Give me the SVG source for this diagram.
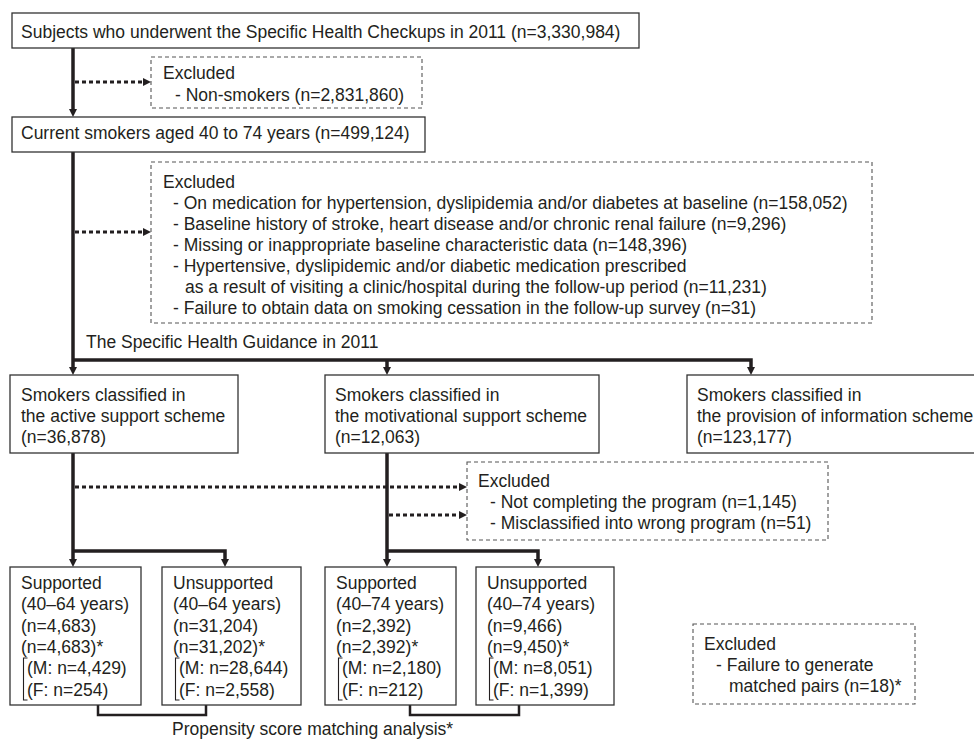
<svg xmlns="http://www.w3.org/2000/svg" width="974" height="740" viewBox="0 0 974 740">
<style>
text{font-family:"Liberation Sans",Arial,sans-serif;font-size:17.5px;fill:#231f20}
.box{fill:#fff;stroke:#333;stroke-width:1.3}
.dbox{fill:#fff;stroke:#555;stroke-width:1.1;stroke-dasharray:4 3}
.solid{fill:none;stroke:#231f20;stroke-width:3.5}
.dot{fill:none;stroke:#231f20;stroke-width:3;stroke-dasharray:4 3}
.brk{fill:none;stroke:#231f20;stroke-width:1.1}
.pair{fill:none;stroke:#231f20;stroke-width:2.5}
</style>
<defs>
<marker id="ah" viewBox="0 0 8 8" refX="2" refY="4" markerWidth="8" markerHeight="8" markerUnits="userSpaceOnUse" orient="auto">
<path d="M0,0 L8,4 L0,8 z" fill="#231f20"/>
</marker>
</defs>
<rect width="974" height="740" fill="#fff"/>

<g id="connectors">
<path class="solid" d="M73,48 V111" marker-end="url(#ah)"/>
<path class="dot" d="M75,82 H145" marker-end="url(#ah)"/>
<path class="solid" d="M73,152 V369" marker-end="url(#ah)"/>
<path class="dot" d="M75,232 H145" marker-end="url(#ah)"/>
<path class="solid" d="M73,360 H751 V369" marker-end="url(#ah)"/>
<path class="solid" d="M387,360 V369" marker-end="url(#ah)"/>
<path class="solid" d="M73,453 V561" marker-end="url(#ah)"/>
<path class="solid" d="M73,551 H225 V561" marker-end="url(#ah)"/>
<path class="solid" d="M387,453 V561" marker-end="url(#ah)"/>
<path class="solid" d="M387,551 H538 V561" marker-end="url(#ah)"/>
<path class="dot" d="M75,487 H461" marker-end="url(#ah)"/>
<path class="dot" d="M389,515 H461" marker-end="url(#ah)"/>
<path class="pair" d="M98,705 V715 H206 V705"/>
<path class="pair" d="M410,705 V715 H519 V705"/>
</g>

<g id="n-subjects">
<rect class="box" x="12" y="13" width="627" height="35"/>
<text x="21" y="38">Subjects who underwent the Specific Health Checkups in 2011 (n=3,330,984)</text>
</g>

<g id="n-excl-nonsmokers">
<rect class="dbox" x="151" y="57" width="271" height="51"/>
<text x="163" y="79">Excluded</text>
<text x="175" y="101">- Non-smokers (n=2,831,860)</text>
</g>

<g id="n-current">
<rect class="box" x="12" y="117" width="413" height="35"/>
<text x="21" y="139">Current smokers aged 40 to 74 years (n=499,124)</text>
</g>

<g id="n-excl-baseline">
<rect class="dbox" x="151" y="162" width="721" height="161"/>
<text x="163" y="188">Excluded</text>
<text x="173" y="209">- On medication for hypertension, dyslipidemia and/or diabetes at baseline (n=158,052)</text>
<text x="173" y="230">- Baseline history of stroke, heart disease and/or chronic renal failure (n=9,296)</text>
<text x="173" y="251">- Missing or inappropriate baseline characteristic data (n=148,396)</text>
<text x="173" y="272">- Hypertensive, dyslipidemic and/or diabetic medication prescribed</text>
<text x="185" y="293">as a result of visiting a clinic/hospital during the follow-up period (n=11,231)</text>
<text x="173" y="314">- Failure to obtain data on smoking cessation in the follow-up survey (n=31)</text>
</g>

<g id="l-guidance">
<text x="86" y="348">The Specific Health Guidance in 2011</text>
</g>

<g id="n-active">
<rect class="box" x="10" y="375" width="228" height="78"/>
<text x="21" y="401">Smokers classified in</text>
<text x="21" y="422">the active support scheme</text>
<text x="21" y="443">(n=36,878)</text>
</g>

<g id="n-motivational">
<rect class="box" x="325" y="375" width="274" height="78"/>
<text x="335" y="401">Smokers classified in</text>
<text x="335" y="422">the motivational support scheme</text>
<text x="335" y="443">(n=12,063)</text>
</g>

<g id="n-information">
<rect class="box" x="687" y="375" width="310" height="78"/>
<text x="697" y="401">Smokers classified in</text>
<text x="697" y="422">the provision of information scheme</text>
<text x="697" y="443">(n=123,177)</text>
</g>

<g id="n-excl-program">
<rect class="dbox" x="467" y="462" width="361" height="78"/>
<text x="478" y="487">Excluded</text>
<text x="490" y="508">- Not completing the program (n=1,145)</text>
<text x="490" y="529">- Misclassified into wrong program (n=51)</text>
</g>

<g id="n-active-supported">
<rect class="box" x="10" y="567" width="131" height="138"/>
<text x="21" y="589">Supported</text>
<text x="21" y="610">(40–64 years)</text>
<text x="21" y="632">(n=4,683)</text>
<text x="21" y="653">(n=4,683)*</text>
<path class="brk" d="M27.5,658 H23.5 V700 H27.5"/>
<text x="27" y="674">(M: n=4,429)</text>
<text x="27" y="696">(F: n=254)</text>
</g>

<g id="n-active-unsupported">
<rect class="box" x="162" y="567" width="139" height="138"/>
<text x="173" y="589">Unsupported</text>
<text x="173" y="610">(40–64 years)</text>
<text x="173" y="632">(n=31,204)</text>
<text x="173" y="653">(n=31,202)*</text>
<path class="brk" d="M179.5,658 H175.5 V700 H179.5"/>
<text x="179" y="674">(M: n=28,644)</text>
<text x="179" y="696">(F: n=2,558)</text>
</g>

<g id="n-motiv-supported">
<rect class="box" x="325" y="567" width="131" height="138"/>
<text x="336" y="589">Supported</text>
<text x="336" y="610">(40–74 years)</text>
<text x="336" y="632">(n=2,392)</text>
<text x="336" y="653">(n=2,392)*</text>
<path class="brk" d="M342.5,658 H338.5 V700 H342.5"/>
<text x="342" y="674">(M: n=2,180)</text>
<text x="342" y="696">(F: n=212)</text>
</g>

<g id="n-motiv-unsupported">
<rect class="box" x="476" y="567" width="138" height="138"/>
<text x="487" y="589">Unsupported</text>
<text x="487" y="610">(40–74 years)</text>
<text x="487" y="632">(n=9,466)</text>
<text x="487" y="653">(n=9,450)*</text>
<path class="brk" d="M493.5,658 H489.5 V700 H493.5"/>
<text x="493" y="674">(M: n=8,051)</text>
<text x="493" y="696">(F: n=1,399)</text>
</g>

<g id="n-excl-matching">
<rect class="dbox" x="693" y="624" width="222" height="80"/>
<text x="704" y="650">Excluded</text>
<text x="716" y="671">- Failure to generate</text>
<text x="729" y="692">matched pairs (n=18)*</text>
</g>

<g id="l-propensity">
<text x="172" y="735">Propensity score matching analysis*</text>
</g>
</svg>
